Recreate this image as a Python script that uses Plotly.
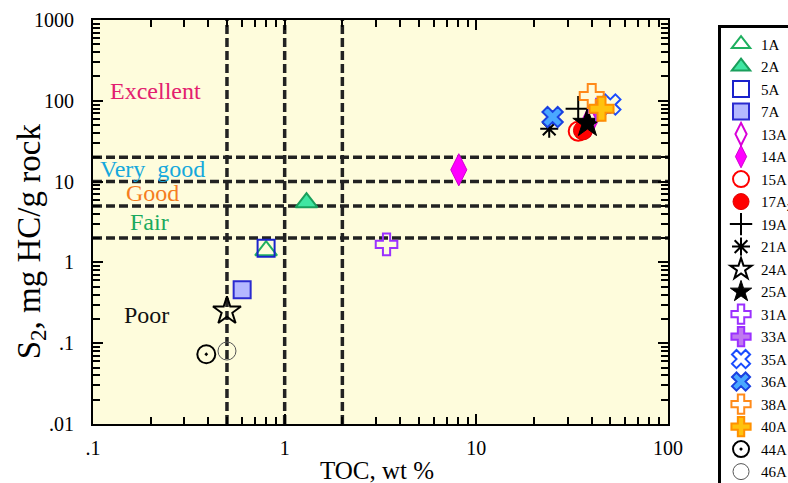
import plotly.graph_objects as go

# ---- data ----
samples = ["1A", "2A", "5A", "7A", "13A", "14A", "15A", "17A<sub>2</sub>", "19A", "21A",
           "24A", "25A", "31A", "33A", "35A", "36A", "38A", "40A", "44A", "46A"]
toc = [0.8, 1.3, 0.8, 0.6, 39, 8.1, 34, 36, 34, 24,
       0.5, 38, 3.4, 44, 50, 25, 40, 45, 0.39, 0.5]
s2 = [1.4, 5.5, 1.5, 0.46, 56, 14, 42, 43, 80, 45,
      0.25, 53, 1.67, 78, 90, 63, 115, 80, 0.073, 0.08]

toc_limits = [0.5, 1, 2]
s2_limits = [2, 5, 10, 20]
x_range = [0.1, 100]
y_range = [0.01, 1000]

x_tickvals = [0.1, 1, 10, 100]
x_ticktext = [".1", "1", "10", "100"]
y_tickvals = [0.01, 0.1, 1, 10, 100, 1000]
y_ticktext = [".01", ".1", "1", "10", "100", "1000"]

classes = ["Excellent", "Very  good", "Good", "Fair", "Poor"]

# ---- styles ----
styles = [
    dict(symbol="triangle-up-open", color="#1fb060", size=19, line=dict(width=2, color="#1fb060")),
    dict(symbol="triangle-up", color="#40e6a2", size=19, line=dict(width=2, color="#1a9f5c")),
    dict(symbol="square-open", color="#1a22cc", size=17, line=dict(width=2, color="#1a22cc")),
    dict(symbol="square", color="#b4b8ff", size=17, line=dict(width=2, color="#2a2ad0")),
    dict(symbol="diamond-tall-open", color="#d800d8", size=22, line=dict(width=2, color="#d800d8")),
    dict(symbol="diamond-tall", color="#ff00ff", size=23, line=dict(width=1, color="#d000d0")),
    dict(symbol="circle-open", color="#ff0000", size=19, line=dict(width=2, color="#ff0000")),
    dict(symbol="circle", color="#ff0000", size=19, line=dict(width=1, color="#e00000")),
    dict(symbol="cross-thin-open", color="#000000", size=18, line=dict(width=2, color="#000000")),
    dict(symbol="asterisk-open", color="#000000", size=15, line=dict(width=2, color="#000000")),
    dict(symbol="star-open", color="#000000", size=21, line=dict(width=2, color="#000000")),
    dict(symbol="star", color="#000000", size=22, line=dict(width=1, color="#000000")),
    dict(symbol="cross-open", color="#9b30ff", size=18, line=dict(width=2, color="#9b30ff")),
    dict(symbol="cross", color="#c078f0", size=18, line=dict(width=2, color="#9b30ff")),
    dict(symbol="x-open", color="#1a4cff", size=18, line=dict(width=2, color="#1a4cff")),
    dict(symbol="x", color="#4aa8ff", size=18, line=dict(width=2, color="#1a40e0")),
    dict(symbol="cross-open", color="#ff8a1a", size=20, line=dict(width=2, color="#ff8a1a")),
    dict(symbol="cross", color="#ffc20e", size=20, line=dict(width=2, color="#ff9000")),
    dict(symbol="circle-open-dot", color="#000000", size=18, line=dict(width=2, color="#000000")),
    dict(symbol="circle-open", color="#555555", size=18, line=dict(width=1, color="#555555")),
]

fig = go.Figure()

dash_line = dict(color="#222222", width=3.5, dash="9px,4px")
for v in toc_limits:
    fig.add_trace(go.Scatter(x=[v, v], y=y_range, mode="lines", line=dash_line,
                             showlegend=False, hoverinfo="skip", cliponaxis=True))
for v in s2_limits:
    fig.add_trace(go.Scatter(x=x_range, y=[v, v], mode="lines", line=dash_line,
                             showlegend=False, hoverinfo="skip", cliponaxis=True))

for name, xv, yv, st in zip(samples, toc, s2, styles):
    fig.add_trace(go.Scatter(x=[xv], y=[yv], mode="markers", name=name,
                             marker=st, cliponaxis=False))

serif = "Liberation Serif, Times New Roman, serif"

# class labels (paper coordinates)
label_pos = [(0.108, 0.824, "#e3206f"), (0.103, 0.631, "#15a8dc"), (0.104, 0.571, "#f57d1f"),
             (0.099, 0.50, "#1aaa5e"), (0.093, 0.270, "#111111")]
for text, (px, py, col) in zip(classes, label_pos):
    fig.add_annotation(x=px, y=py, xref="paper", yref="paper", text=text, showarrow=False,
                       xanchor="center", yanchor="middle",
                       font=dict(family=serif, size=24, color=col))

# axis titles
fig.add_annotation(x=0.494, y=-0.114, xref="paper", yref="paper", text="TOC, wt %",
                   showarrow=False, xanchor="center", yanchor="middle",
                   font=dict(family=serif, size=25, color="black"))
fig.add_annotation(x=-0.108, y=0.452, xref="paper", yref="paper",
                   text="S<sub>2</sub>, mg HC/g rock", textangle=-90,
                   showarrow=False, xanchor="center", yanchor="middle",
                   font=dict(family=serif, size=33, color="black"))

minor_x = [m * 10 ** e for e in range(-1, 2) for m in range(2, 10)]
minor_y = [m * 10 ** e for e in range(-2, 3) for m in range(2, 10)]

fig.update_xaxes(type="log", range=[-1, 2], showgrid=False, zeroline=False,
                 showline=True, linecolor="black", linewidth=2, mirror="ticks",
                 ticks="inside", ticklen=10, tickwidth=1.5, tickcolor="black",
                 tickvals=x_tickvals, ticktext=x_ticktext, ticklabelstandoff=5,
                 tickfont=dict(family=serif, size=20, color="black"),
                 minor=dict(tickvals=minor_x, ticks="inside", ticklen=7, tickwidth=1.5,
                            tickcolor="black", showgrid=False))
fig.update_yaxes(type="log", range=[-2, 3], showgrid=False, zeroline=False,
                 showline=True, linecolor="black", linewidth=2, mirror="ticks",
                 ticks="inside", ticklen=10, tickwidth=1.5, tickcolor="black",
                 tickvals=y_tickvals, ticktext=y_ticktext, ticklabelstandoff=13,
                 tickfont=dict(family=serif, size=20, color="black"),
                 minor=dict(tickvals=minor_y, ticks="inside", ticklen=7, tickwidth=1.5,
                            tickcolor="black", showgrid=False))

fig.update_layout(
    width=788, height=483,
    margin=dict(l=93, r=120, t=20, b=59, autoexpand=False),
    paper_bgcolor="white", plot_bgcolor="#fefcdc",
    legend=dict(x=1.087, y=0.988, xanchor="left", yanchor="top",
                bordercolor="black", borderwidth=3, bgcolor="white",
                font=dict(family=serif, size=15, color="black"),
                itemsizing="trace", tracegroupgap=0, maxheight=470),
    showlegend=True,
)

fig.write_html("out.html")
